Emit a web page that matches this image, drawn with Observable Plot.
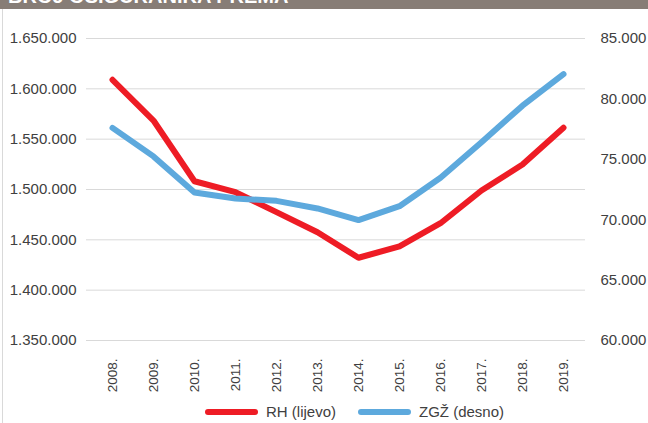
<!DOCTYPE html>
<html>
<head>
<meta charset="utf-8">
<script src="https://cdn.jsdelivr.net/npm/d3@7"></script>
<script src="https://cdn.jsdelivr.net/npm/@observablehq/plot@0.6"></script>
<style>
  html, body { margin: 0; padding: 0; background: #fff; }
  body { width: 648px; height: 423px; position: relative; overflow: hidden; font-family: "Liberation Sans", Arial, sans-serif; }
  #title { position: absolute; left: 0; top: 0; width: 648px; height: 9px; background: #877d76; overflow: hidden; }
  #title span { position: absolute; left: 8px; top: -14px; line-height: 20px; color: #fff; font-weight: bold; font-size: 20px; white-space: nowrap; }
  #border { position: absolute; left: 2px; top: 9px; width: 1px; height: 414px; background: #d9d9d9; }
  #chart { position: absolute; left: 0; top: 9px; }
  #legend { position: absolute; left: 205px; top: 403px; display: flex; align-items: center; font-size: 15px; color: #404040; }
  .sw { display: inline-block; width: 53px; height: 6px; border-radius: 3px; margin-right: 8px; }
  .item { display: flex; align-items: center; margin-right: 22px; }
</style>
</head>
<body>
<div id="title"><span>BROJ OSIGURANIKA PREMA</span></div>
<div id="border"></div>
<div id="chart"></div>
<div id="legend"></div>
<script>
const years = ["2008.","2009.","2010.","2011.","2012.","2013.","2014.","2015.","2016.","2017.","2018.","2019."];
const rh  = [1609000,1568500,1508200,1497300,1477500,1457600,1432200,1443400,1466500,1499000,1524800,1561300];
const zgz = [77600,75240,72250,71750,71560,70930,69970,71120,73480,76420,79440,82050];
const leftTicks  = [1350000,1400000,1450000,1500000,1550000,1600000,1650000];
const rightTicks = [60000,65000,70000,75000,80000,85000];
const seriesNames = ["RH (lijevo)", "ZGŽ (desno)"];
const seriesColors = ["#ee1c25", "#5da9dd"];

const fmt = d3.formatLocale({thousands: ".", grouping: [3], decimal: ","}).format(",d");
// map right-axis values onto the left scale
const toLeft = v => 1350000 + (v - 60000) * 12;

const data = [];
years.forEach((y, i) => {
  data.push({year: y, value: rh[i], series: seriesNames[0]});
  data.push({year: y, value: toLeft(zgz[i]), series: seriesNames[1]});
});

const chart = Plot.plot({
  width: 648,
  height: 392,
  marginTop: 29,
  marginBottom: 61,
  marginLeft: 86,
  marginRight: 63,
  style: {fontFamily: "'Liberation Sans', Arial, sans-serif", fontSize: "15px", color: "#404040", background: "transparent", overflow: "visible"},
  x: {type: "point", domain: years, range: [110, 564], padding: 0},
  y: {domain: [1350000, 1650000]},
  color: {domain: seriesNames, range: seriesColors},
  marks: [
    Plot.gridY(leftTicks, {stroke: "#d9d9d9", strokeOpacity: 1, strokeWidth: 1}),
    Plot.axisY(leftTicks, {anchor: "left", tickSize: 0, tickPadding: 10, tickFormat: fmt, label: null, fontSize: 15}),
    Plot.axisY(rightTicks.map(toLeft), {anchor: "right", tickSize: 0, tickPadding: 15, textAnchor: "start", tickFormat: (d) => fmt(Math.round((d - 1350000) / 12 + 60000)), label: null, fontSize: 15}),
    Plot.axisX(years, {anchor: "bottom", tickSize: 0, tickPadding: 18, tickRotate: -90, label: null, fontSize: 13.5}),
    Plot.line(data, {x: "year", y: "value", z: "series", stroke: "series", strokeWidth: 6, strokeLinejoin: "round", strokeLinecap: "round"})
  ]
});
document.getElementById("chart").appendChild(chart);

const legend = document.getElementById("legend");
seriesNames.forEach((n, i) => {
  const it = document.createElement("div");
  it.className = "item";
  const sw = document.createElement("span");
  sw.className = "sw";
  sw.style.background = seriesColors[i];
  const t = document.createElement("span");
  t.textContent = n;
  it.appendChild(sw); it.appendChild(t);
  legend.appendChild(it);
});
</script>
</body>
</html>
